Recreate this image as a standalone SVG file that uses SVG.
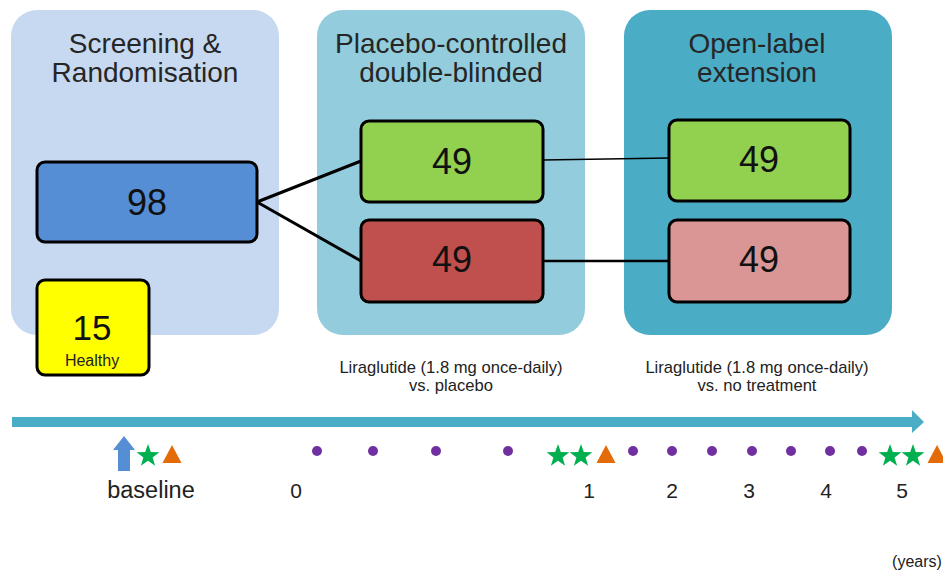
<svg xmlns="http://www.w3.org/2000/svg" width="943" height="571" viewBox="0 0 943 571">
  <style>
    text { font-family: "Liberation Sans", Arial, sans-serif; fill: #1a1a1a; text-anchor: middle; }
    .title { font-size: 28px; fill: #262626; }
    .count { font-size: 36px; fill: #111; }
    .note { font-size: 16px; fill: #222; }
    .caption { font-size: 16.6px; fill: #222; }
    .tick { font-size: 21px; fill: #222; }
    .box { stroke: #000; stroke-width: 3; }
    .dot { fill: #7030a0; }
    .star { fill: #00b050; }
    .tri { fill: #e36c09; }
  </style>
  <defs>
    <polygon id="star" points="0,-12 2.8,-3.9 11.4,-3.7 4.6,1.5 7.1,9.7 0,4.8 -7.1,9.7 -4.6,1.5 -11.4,-3.7 -2.8,-3.9"/>
    <polygon id="tri" points="0,-9 9.5,9 -9.5,9"/>
  </defs>
  <rect width="943" height="571" fill="#ffffff"/>

  <!-- phase panels -->
  <g id="phase-screening">
    <rect x="11" y="10" width="268" height="325" rx="26" fill="#c6d9f1"/>
    <text class="title" x="145" y="53">Screening &amp;</text>
    <text class="title" x="145" y="82">Randomisation</text>
  </g>
  <g id="phase-placebo">
    <rect x="317" y="10" width="268" height="325" rx="26" fill="#93cddd"/>
    <text class="title" x="451" y="53">Placebo-controlled</text>
    <text class="title" x="451" y="82">double-blinded</text>
  </g>
  <g id="phase-openlabel">
    <rect x="624" y="10" width="268" height="325" rx="26" fill="#4bacc6"/>
    <text class="title" x="757" y="53">Open-label</text>
    <text class="title" x="757" y="82">extension</text>
  </g>

  <!-- connectors -->
  <g id="connectors" stroke="#000" fill="none">
    <line x1="257" y1="202" x2="361" y2="161" stroke-width="3"/>
    <line x1="257" y1="202" x2="361" y2="261" stroke-width="3"/>
    <line x1="543" y1="160" x2="669" y2="158" stroke-width="1.5"/>
    <line x1="543" y1="261" x2="669" y2="261" stroke-width="2.5"/>
  </g>

  <!-- participant groups -->
  <g id="node-randomised">
    <rect class="box" x="37" y="162" width="220" height="80" rx="8" fill="#558ed5"/>
    <text class="count" x="147" y="215">98</text>
  </g>
  <g id="node-healthy">
    <rect class="box" x="37" y="280" width="112" height="95" rx="8" fill="#ffff00"/>
    <text x="92" y="340" style="font-size:35px;fill:#111">15</text>
    <text class="note" x="92" y="366">Healthy</text>
  </g>
  <g id="node-liraglutide-1">
    <rect class="box" x="361" y="121" width="182" height="81" rx="8" fill="#92d050"/>
    <text class="count" x="452" y="174">49</text>
  </g>
  <g id="node-placebo-1">
    <rect class="box" x="361" y="220" width="182" height="82" rx="8" fill="#c0504d"/>
    <text class="count" x="452" y="272">49</text>
  </g>
  <g id="node-liraglutide-2">
    <rect class="box" x="669" y="120" width="181" height="81" rx="8" fill="#92d050"/>
    <text class="count" x="759" y="172">49</text>
  </g>
  <g id="node-untreated-2">
    <rect class="box" x="669" y="220" width="181" height="82" rx="8" fill="#d99694"/>
    <text class="count" x="759" y="272">49</text>
  </g>

  <!-- treatment captions -->
  <g id="captions">
    <text class="caption" x="451" y="373">Liraglutide (1.8 mg once-daily)</text>
    <text class="caption" x="451" y="391">vs. placebo</text>
    <text class="caption" x="757" y="373">Liraglutide (1.8 mg once-daily)</text>
    <text class="caption" x="757" y="391">vs. no treatment</text>
  </g>

  <!-- timeline -->
  <g id="timeline">
    <polygon points="12,417 912,417 912,410 924,422 912,433 912,427 12,427" fill="#4bacc6"/>

    <!-- baseline visit markers -->
    <polygon points="124,436 135,450 130,450 130,471 118,471 118,450 113,450" fill="#558ed5"/>
    <use href="#star" class="star" x="148" y="456"/>
    <use href="#tri" class="tri" x="172" y="454"/>

    <!-- interim visits -->
    <circle class="dot" cx="317" cy="451" r="5"/>
    <circle class="dot" cx="373" cy="451" r="5"/>
    <circle class="dot" cx="436" cy="451" r="5"/>
    <circle class="dot" cx="508" cy="451" r="5"/>
    <circle class="dot" cx="633" cy="451" r="5"/>
    <circle class="dot" cx="672" cy="451" r="5"/>
    <circle class="dot" cx="712" cy="451" r="5"/>
    <circle class="dot" cx="752" cy="451" r="5"/>
    <circle class="dot" cx="791" cy="451" r="5"/>
    <circle class="dot" cx="830" cy="451" r="5"/>
    <circle class="dot" cx="862" cy="451" r="5"/>

    <!-- year 1 visit -->
    <use href="#star" class="star" x="558" y="456"/>
    <use href="#star" class="star" x="581" y="456"/>
    <use href="#tri" class="tri" x="606" y="454"/>

    <!-- year 5 visit -->
    <use href="#star" class="star" x="890" y="456"/>
    <use href="#star" class="star" x="913" y="456"/>
    <use href="#tri" class="tri" x="937" y="454"/>

    <text class="tick" x="151" y="498" style="font-size:23.5px">baseline</text>
    <text class="tick" x="296" y="498">0</text>
    <text class="tick" x="589" y="498">1</text>
    <text class="tick" x="672" y="498">2</text>
    <text class="tick" x="749" y="498">3</text>
    <text class="tick" x="826" y="498">4</text>
    <text class="tick" x="902" y="498">5</text>
    <text class="note" x="917" y="567">(years)</text>
  </g>
</svg>
